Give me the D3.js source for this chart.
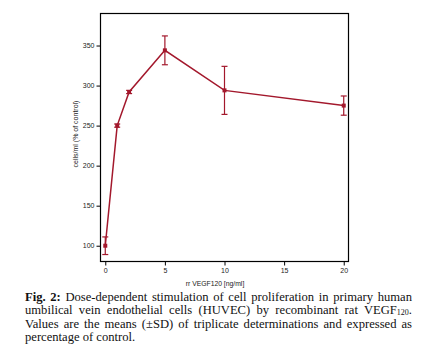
<!DOCTYPE html>
<html>
<head>
<meta charset="utf-8">
<script src="https://cdn.jsdelivr.net/npm/d3@7"></script>
<style>
  html, body { margin: 0; padding: 0; background: #fff; width: 427px; height: 359px; overflow: hidden; }
  #chart { position: absolute; left: 0; top: 0; }
  #caption {
    position: absolute; left: 25px; top: 291px; width: 387px;
    font-family: "Liberation Serif", "Times New Roman", serif; font-size: 12.6px; line-height: 12.6px;
    color: #111;
  }
  #caption div { white-space: nowrap; text-align: justify; text-align-last: justify; }
  #caption div.last { text-align-last: left; }
  #caption sub { font-size: 8px; vertical-align: baseline; position: relative; top: 1px; }
</style>
</head>
<body>
<svg id="chart" width="427" height="359"></svg>
<div id="caption">
  <div><b>Fig. 2:</b> Dose-dependent stimulation of cell proliferation in primary human</div>
  <div>umbilical vein endothelial cells (HUVEC) by recombinant rat VEGF<sub>120</sub>.</div>
  <div>Values are the means (±SD) of triplicate determinations and expressed as</div>
  <div class="last">percentage of control.</div>
</div>
<script>
const doses = [0, 1, 2, 5, 10, 20];
const means = [100, 250, 292, 344, 294, 275];
const sds = [11, 2, 2, 18, 30, 12];
const xTicks = [0, 5, 10, 15, 20];
const yTicks = [100, 150, 200, 250, 300, 350];
const xLabel = "rr VEGF120 [ng/ml]";
const yLabel = "cells/ml (% of control)";

const svg = d3.select("#chart");
const pLeft = 100.5, pRight = 348.5, pTop = 13.5, pBottom = 261.5;
const x = d3.scaleLinear().domain([-0.4, 20.4]).range([pLeft, pRight]);
const y = d3.scaleLinear().domain([80.3, 390]).range([pBottom, pTop]);
const color = "#a3182c";

svg.append("rect").attr("x", pLeft).attr("y", pTop).attr("width", pRight - pLeft).attr("height", pBottom - pTop)
  .attr("fill", "none").attr("stroke", "#000").attr("stroke-width", 1.2);

const fontAxis = "Arial, 'Liberation Sans', sans-serif";

const xAxis = svg.append("g").attr("transform", `translate(0,${pBottom})`)
  .call(d3.axisBottom(x).tickValues(xTicks).tickSize(4).tickPadding(3));
xAxis.select(".domain").remove();
xAxis.selectAll("text").attr("font-family", fontAxis).attr("font-size", 7).attr("fill", "#222");
xAxis.selectAll("line").attr("stroke", "#000");

const yAxis = svg.append("g").attr("transform", `translate(${pLeft},0)`)
  .call(d3.axisLeft(y).tickValues(yTicks).tickSize(4).tickPadding(2));
yAxis.select(".domain").remove();
yAxis.selectAll("text").attr("font-family", fontAxis).attr("font-size", 7).attr("fill", "#222");
yAxis.selectAll("line").attr("stroke", "#000");

svg.append("text").attr("x", 215).attr("y", 286).attr("text-anchor", "middle")
  .attr("font-family", fontAxis).attr("font-size", 6.8).attr("fill", "#222").text(xLabel);
svg.append("text").attr("transform", `translate(78,134) rotate(-90)`).attr("text-anchor", "middle")
  .attr("font-family", fontAxis).attr("font-size", 7).attr("fill", "#222").text(yLabel);

const data = doses.map((d, i) => ({ d, m: means[i], s: sds[i] }));

svg.append("path").datum(data)
  .attr("d", d3.line().x(p => x(p.d)).y(p => y(p.m)))
  .attr("fill", "none").attr("stroke", color).attr("stroke-width", 1.5);

const eb = svg.append("g").attr("stroke", color).attr("stroke-width", 1.2);
data.forEach(p => {
  eb.append("line").attr("x1", x(p.d)).attr("x2", x(p.d)).attr("y1", y(p.m - p.s)).attr("y2", y(p.m + p.s));
  [p.m - p.s, p.m + p.s].forEach(v => {
    eb.append("line").attr("x1", x(p.d) - 3).attr("x2", x(p.d) + 3).attr("y1", y(v)).attr("y2", y(v));
  });
});

svg.append("g").selectAll("rect").data(data).join("rect")
  .attr("x", p => x(p.d) - 2).attr("y", p => y(p.m) - 2).attr("width", 4).attr("height", 4)
  .attr("fill", color);
</script>
</body>
</html>
